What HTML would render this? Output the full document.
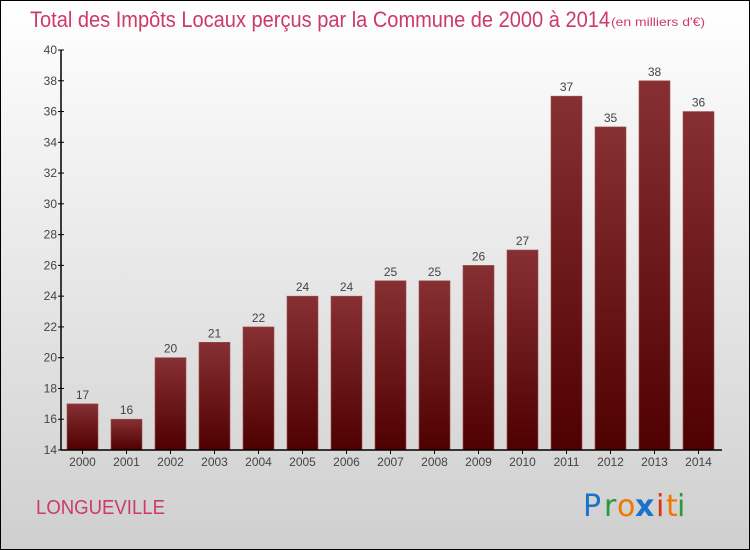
<!DOCTYPE html>
<html><head><meta charset="utf-8"><style>
html,body{margin:0;padding:0}
body{width:750px;height:550px;overflow:hidden;font-family:"Liberation Sans",sans-serif}
#wrap{position:relative;width:748px;height:548px;border:1px solid #000;background:linear-gradient(#ffffff,#cfcfcf)}
</style></head><body>
<div id="wrap">
<svg id="chart" width="748" height="548" viewBox="1 1 748 548" style="position:absolute;left:0;top:0">
<defs><linearGradient id="bg" x1="0" y1="0" x2="0" y2="1"><stop offset="0" stop-color="#873033"/><stop offset="1" stop-color="#4f0000"/></linearGradient></defs>
<text x="30" y="27" font-size="22" fill="#cc3a66" textLength="580" lengthAdjust="spacingAndGlyphs">Total des Impôts Locaux perçus par la Commune de 2000 à 2014</text>
<text x="611" y="26" font-size="12" fill="#cc3a66" textLength="94" lengthAdjust="spacingAndGlyphs">(en milliers d'€)</text>
<text x="36" y="514" font-size="20" fill="#cc3a66" textLength="129" lengthAdjust="spacingAndGlyphs">LONGUEVILLE</text>
<g font-size="30" font-family="'DejaVu Sans',sans-serif">
<text x="583" y="516" fill="#1a73c8">P</text><text x="604" y="516" fill="#2a9a3a">r</text><text x="617" y="516" fill="#f07800">o</text><text x="635" y="516" fill="#1a73c8" font-weight="bold">x</text><text x="656" y="516" fill="#e03010">i</text><text x="666" y="516" fill="#f07800">t</text><text x="677" y="516" fill="#2a9a3a">i</text>
</g>
<g id="bars"></g><g id="axes"></g>
</svg>
</div>
<script>
const years=["2000","2001","2002","2003","2004","2005","2006","2007","2008","2009","2010","2011","2012","2013","2014"];
const values=[17,16,20,21,22,24,24,25,25,26,27,37,35,38,36];
const yTicks=[14,16,18,20,22,24,26,28,30,32,34,36,38,40];
const NS="http://www.w3.org/2000/svg";
const yMin=14,yMax=40,top0=50,base=450,left=61;
const y=v=>base-(v-yMin)*(base-top0)/(yMax-yMin);
const xc=i=>82.5+44*i;
const bars=document.getElementById('bars'),axes=document.getElementById('axes');
function mk(t,a,p){const e=document.createElementNS(NS,t);for(const k in a)e.setAttribute(k,a[k]);p.appendChild(e);return e;}
values.forEach((v,i)=>{
const r=mk('rect',{x:xc(i)-15.5,y:y(v),width:31,height:base-y(v),fill:'url(#bg)',stroke:'#a05050','stroke-width':0.6},bars);


const t=mk('text',{x:xc(i),y:y(v)-5,'text-anchor':'middle','font-size':12,fill:'#444'},bars);
t.textContent=v;


const xl=mk('text',{x:xc(i),y:466,'text-anchor':'middle','font-size':12,fill:'#444'},axes);
xl.textContent=years[i];


mk('line',{x1:xc(i),x2:xc(i),y1:base,y2:base+4,stroke:'#000'},axes);
});
const ya=mk('line',{x1:left,x2:left,y1:top0,y2:base,stroke:'#000','stroke-width':1.5},axes);


const xa=mk('line',{x1:left,x2:722,y1:base,y2:base,stroke:'#000','stroke-width':1.5},axes);


yTicks.forEach(v=>{
mk('line',{x1:left-3,x2:left+3,y1:y(v),y2:y(v),stroke:'#000'},axes);
const t=mk('text',{x:left-4,y:y(v)+4,'text-anchor':'end','font-size':12,fill:'#444'},axes);
t.textContent=v;


});
</script>
</body></html>
